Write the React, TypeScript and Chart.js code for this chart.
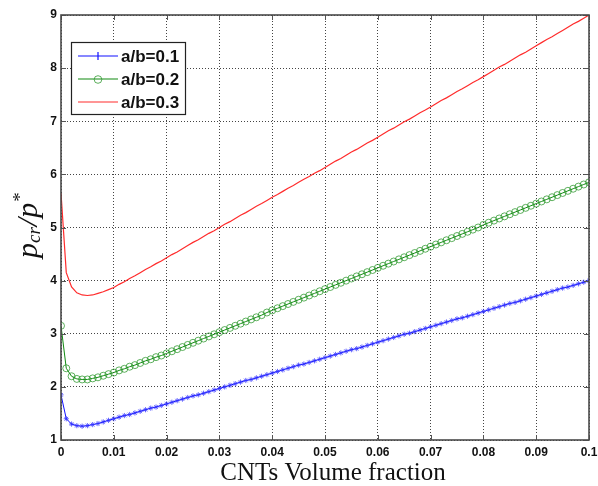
import React, { useEffect, useRef } from "react";
import { Chart, registerables } from "chart.js";

Chart.register(...registerables);

const xValues = [
  0, 0.001, 0.002, 0.003, 0.004, 0.005, 0.006, 0.007, 0.008, 0.009,
  0.01, 0.011, 0.012, 0.013, 0.014, 0.015, 0.016, 0.017, 0.018, 0.019,
  0.02, 0.021, 0.022, 0.023, 0.024, 0.025, 0.026, 0.027, 0.028, 0.029,
  0.03, 0.031, 0.032, 0.033, 0.034, 0.035, 0.036, 0.037, 0.038, 0.039,
  0.04, 0.041, 0.042, 0.043, 0.044, 0.045, 0.046, 0.047, 0.048, 0.049,
  0.05, 0.051, 0.052, 0.053, 0.054, 0.055, 0.056, 0.057, 0.058, 0.059,
  0.06, 0.061, 0.062, 0.063, 0.064, 0.065, 0.066, 0.067, 0.068, 0.069,
  0.07, 0.071, 0.072, 0.073, 0.074, 0.075, 0.076, 0.077, 0.078, 0.079,
  0.08, 0.081, 0.082, 0.083, 0.084, 0.085, 0.086, 0.087, 0.088, 0.089,
  0.09, 0.091, 0.092, 0.093, 0.094, 0.095, 0.096, 0.097, 0.098, 0.099,
  0.1,
];

const seriesAB01 = [
  1.85, 1.40, 1.30, 1.27, 1.26, 1.27, 1.29, 1.31, 1.34, 1.37,
  1.40, 1.43, 1.46, 1.48, 1.51, 1.54, 1.57, 1.60, 1.62, 1.65,
  1.68, 1.71, 1.74, 1.77, 1.80, 1.83, 1.85, 1.88, 1.91, 1.94,
  1.97, 2.00, 2.03, 2.06, 2.09, 2.12, 2.14, 2.17, 2.20, 2.23,
  2.26, 2.29, 2.32, 2.35, 2.38, 2.41, 2.43, 2.46, 2.49, 2.52,
  2.55, 2.58, 2.61, 2.64, 2.67, 2.70, 2.72, 2.75, 2.78, 2.81,
  2.84, 2.87, 2.90, 2.93, 2.96, 2.99, 3.01, 3.04, 3.07, 3.10,
  3.13, 3.16, 3.19, 3.22, 3.25, 3.28, 3.30, 3.33, 3.36, 3.39,
  3.42, 3.45, 3.48, 3.51, 3.54, 3.57, 3.59, 3.62, 3.65, 3.68,
  3.71, 3.74, 3.77, 3.80, 3.83, 3.86, 3.88, 3.91, 3.94, 3.97,
  4.00,
];

const seriesAB02 = [
  3.15, 2.35, 2.20, 2.15, 2.14, 2.14, 2.16, 2.18, 2.21, 2.24,
  2.27, 2.31, 2.34, 2.38, 2.41, 2.45, 2.49, 2.52, 2.56, 2.59,
  2.63, 2.67, 2.71, 2.75, 2.79, 2.83, 2.87, 2.91, 2.95, 2.99,
  3.03, 3.07, 3.11, 3.15, 3.19, 3.23, 3.27, 3.31, 3.35, 3.40,
  3.44, 3.48, 3.52, 3.56, 3.60, 3.64, 3.68, 3.72, 3.76, 3.80,
  3.84, 3.88, 3.92, 3.96, 4.00, 4.04, 4.08, 4.12, 4.16, 4.20,
  4.24, 4.28, 4.32, 4.36, 4.40, 4.44, 4.48, 4.52, 4.56, 4.60,
  4.64, 4.68, 4.72, 4.76, 4.80, 4.84, 4.88, 4.92, 4.96, 5.00,
  5.05, 5.09, 5.13, 5.17, 5.21, 5.25, 5.29, 5.33, 5.37, 5.41,
  5.45, 5.49, 5.53, 5.57, 5.61, 5.65, 5.69, 5.73, 5.77, 5.81,
  5.85,
];

const seriesAB03 = [
  5.65, 4.15, 3.88, 3.77, 3.73, 3.72, 3.73, 3.76, 3.79, 3.83,
  3.87, 3.93, 3.98, 4.04, 4.09, 4.15, 4.21, 4.26, 4.32, 4.37,
  4.43, 4.49, 4.54, 4.60, 4.66, 4.72, 4.77, 4.83, 4.89, 4.94,
  5.00, 5.06, 5.11, 5.17, 5.23, 5.28, 5.34, 5.40, 5.45, 5.51,
  5.57, 5.62, 5.68, 5.74, 5.79, 5.85, 5.91, 5.96, 6.02, 6.07,
  6.13, 6.19, 6.25, 6.30, 6.36, 6.42, 6.47, 6.53, 6.59, 6.64,
  6.70, 6.76, 6.82, 6.87, 6.93, 6.99, 7.04, 7.10, 7.16, 7.21,
  7.27, 7.33, 7.39, 7.44, 7.50, 7.56, 7.61, 7.67, 7.73, 7.78,
  7.84, 7.90, 7.96, 8.02, 8.07, 8.13, 8.19, 8.25, 8.30, 8.36,
  8.42, 8.48, 8.54, 8.59, 8.65, 8.71, 8.77, 8.83, 8.88, 8.94,
  9.00,
];

const legendLabels = ["a/b=0.1", "a/b=0.2", "a/b=0.3"];
const xTitle = "CNTs Volume fraction";

const BLUE = "#1010ff";
const GREEN = "#108a10";
const GREEN_MARK = "rgba(40,150,40,0.75)";
const RED = "rgba(255,20,20,0.9)";

const overlayPlugin = {
  id: "overlay",
  afterDraw(chart: any) {
    const { ctx, chartArea, scales } = chart;
    const { left, right, top, bottom } = chartArea;
    const xs = scales.x;
    const ys = scales.y;
    ctx.save();

    // inward ticks
    ctx.strokeStyle = "#555";
    ctx.lineWidth = 1;
    ctx.beginPath();
    xs.ticks.forEach((t: any) => {
      const px = Math.round(xs.getPixelForValue(t.value)) + 0.5;
      ctx.moveTo(px, bottom);
      ctx.lineTo(px, bottom - 5);
      ctx.moveTo(px, top);
      ctx.lineTo(px, top + 5);
    });
    ys.ticks.forEach((t: any) => {
      const py = Math.round(ys.getPixelForValue(t.value)) + 0.5;
      ctx.moveTo(left, py);
      ctx.lineTo(left + 5, py);
      ctx.moveTo(right, py);
      ctx.lineTo(right - 5, py);
    });
    ctx.stroke();

    // box
    ctx.strokeStyle = "#4a4a4a";
    ctx.lineWidth = 1.6;
    ctx.strokeRect(left, top, right - left, bottom - top);

    // legend
    const lx = 71, ly = 42, lw = 114, lh = 72;
    ctx.fillStyle = "#fff";
    ctx.fillRect(lx, ly, lw, lh);
    ctx.strokeStyle = "#222";
    ctx.lineWidth = 1.2;
    ctx.strokeRect(lx + 0.5, ly + 0.5, lw, lh);
    const rows = [56, 79, 102];
    const colors = [BLUE, GREEN, RED];
    ctx.font = 'bold 17px "Liberation Sans", Arial, sans-serif';
    ctx.textBaseline = "middle";
    ctx.textAlign = "left";
    rows.forEach((ry, i) => {
      ctx.strokeStyle = colors[i];
      ctx.lineWidth = 1.2;
      ctx.beginPath();
      ctx.moveTo(78, ry);
      ctx.lineTo(118, ry);
      ctx.stroke();
      if (i === 0) {
        ctx.lineWidth = 1.2;
        ctx.beginPath();
        ctx.moveTo(98, ry - 4);
        ctx.lineTo(98, ry + 4);
        ctx.stroke();
      } else if (i === 1) {
        ctx.strokeStyle = GREEN_MARK;
        ctx.lineWidth = 1;
        ctx.beginPath();
        ctx.arc(98, ry + 0.5, 3.8, 0, Math.PI * 2);
        ctx.stroke();
      }
      ctx.fillStyle = "#111";
      ctx.fillText(legendLabels[i], 121, ry + 1);
    });

    // x title
    ctx.fillStyle = "#111";
    ctx.font = '25px "Liberation Serif", "Times New Roman", serif';
    ctx.textAlign = "center";
    ctx.textBaseline = "alphabetic";
    ctx.fillText(xTitle, 333, 480);

    // y title: p_cr / p^*
    ctx.save();
    ctx.translate(37, 258);
    ctx.rotate(-Math.PI / 2);
    ctx.textAlign = "left";
    ctx.textBaseline = "alphabetic";
    const big = 'italic 30px "Liberation Serif", "Times New Roman", serif';
    const small = 'italic 19px "Liberation Serif", "Times New Roman", serif';
    const smallUp = '19px "Liberation Serif", "Times New Roman", serif';
    let cx = 0;
    ctx.font = big;
    ctx.fillText("p", cx, 0);
    cx += ctx.measureText("p").width;
    ctx.font = small;
    ctx.fillText("cr", cx, 3);
    cx += ctx.measureText("cr").width + 1;
    ctx.font = big;
    ctx.fillText("/", cx, 0);
    cx += ctx.measureText("/").width;
    ctx.fillText("p", cx, 0);
    cx += ctx.measureText("p").width + 1;
    ctx.font = smallUp;
    ctx.fillText("*", cx, -11);
    ctx.restore();

    ctx.restore();
  },
};

export default function App() {
  const canvasRef = useRef<HTMLCanvasElement | null>(null);

  useEffect(() => {
    if (!canvasRef.current) return;
    const mk = (ys: number[]) => xValues.map((x, i) => ({ x, y: ys[i] }));
    const tickFont = { family: '"Liberation Sans", Arial, sans-serif', size: 12, weight: "bold" as const };
    const chart = new Chart(canvasRef.current, {
      type: "line",
      data: {
        datasets: [
          {
            label: legendLabels[0],
            data: mk(seriesAB01),
            borderColor: BLUE,
            borderWidth: 1,
            pointStyle: "star",
            pointRadius: 2.6,
            pointBorderColor: "rgba(50,50,255,0.75)",
            pointBorderWidth: 1,
            pointBackgroundColor: "transparent",
            tension: 0,
          },
          {
            label: legendLabels[1],
            data: mk(seriesAB02),
            borderColor: GREEN,
            borderWidth: 1,
            pointStyle: "circle",
            pointRadius: 3.5,
            pointBorderColor: GREEN_MARK,
            pointBorderWidth: 1,
            pointBackgroundColor: "transparent",
            tension: 0,
          },
          {
            label: legendLabels[2],
            data: mk(seriesAB03),
            borderColor: RED,
            borderWidth: 1.2,
            pointRadius: 0,
            tension: 0,
          },
        ],
      },
      options: {
        animation: false,
        responsive: false,
        devicePixelRatio: 1,
        layout: { padding: { left: 0, right: 9, top: 15, bottom: 0 } },
        plugins: {
          legend: { display: false },
          tooltip: { enabled: false },
          title: { display: false },
        },
        scales: {
          x: {
            type: "linear",
            min: 0,
            max: 0.1,
            ticks: {
              stepSize: 0.01,
              color: "#111",
              font: tickFont,
              padding: 5,
              maxRotation: 0,
              autoSkip: false,
              callback: (v: any) => String(Number(Number(v).toFixed(3))),
            },
            grid: { color: "#444", lineWidth: 1, drawTicks: false },
            border: { display: false, dash: [1, 2] },
            afterFit: (s: any) => {
              s.height = 46;
              s.paddingLeft = 0;
              s.paddingRight = 0;
            },
          },
          y: {
            type: "linear",
            min: 1,
            max: 9,
            ticks: {
              stepSize: 1,
              color: "#111",
              font: tickFont,
              padding: 4,
              autoSkip: false,
            },
            grid: { color: "#444", lineWidth: 1, drawTicks: false },
            border: { display: false, dash: [1, 2] },
            afterFit: (s: any) => {
              s.width = 61;
              s.paddingTop = 0;
              s.paddingBottom = 0;
            },
          },
        },
      },
      plugins: [overlayPlugin],
    });
    return () => chart.destroy();
  }, []);

  return (
    <div style={{ position: "absolute", left: 0, top: 0, width: 598, height: 486, background: "#fff" }}>
      <canvas ref={canvasRef} width={598} height={486} />
    </div>
  );
}
